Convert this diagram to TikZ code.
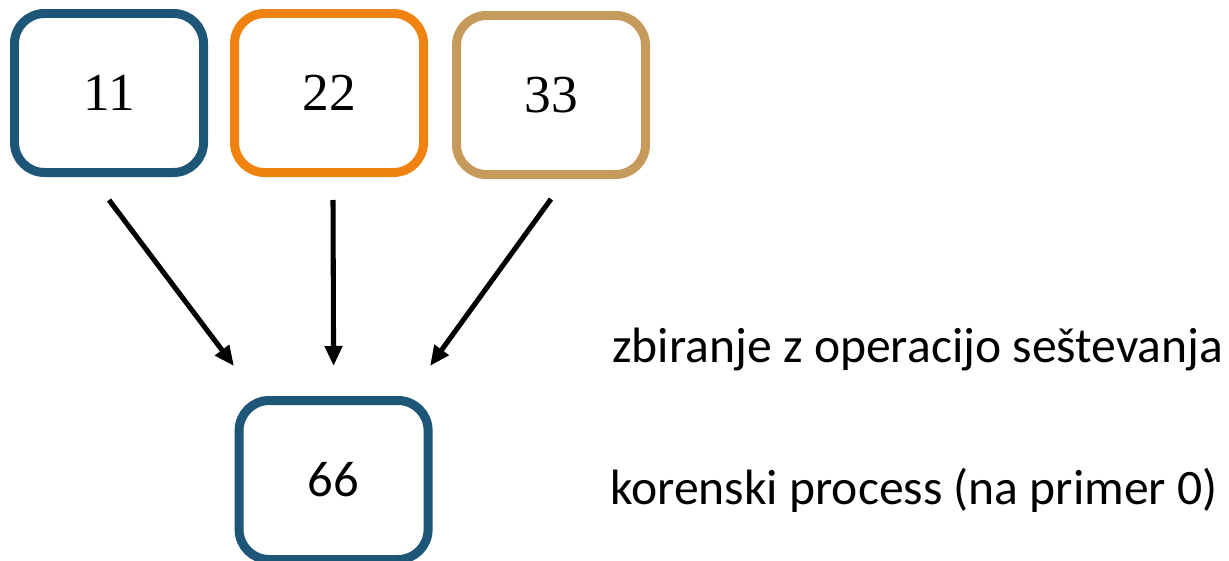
\documentclass[tikz,border=0pt]{standalone}
\usepackage{fontspec}
\setmainfont{Carlito}
\newfontfamily\numfont{Liberation Serif}
\usepackage{xcolor}
\definecolor{boxBlue}{HTML}{1D5676}
\definecolor{boxOrange}{HTML}{F0820F}
\definecolor{boxTan}{HTML}{C59A5B}
\usetikzlibrary{arrows.meta, positioning}

\begin{document}
\begin{tikzpicture}[
        numBox/.style={
            draw,
            line width=6.4pt,
            rounded corners=0.75cm,
            minimum width=4.725cm,
            minimum height=3.975cm,
            font=\numfont\fontsize{38}{44}\selectfont
        },
        noteText/.style={
            anchor=west,
            inner sep=0pt,
            font=\fontsize{35.3}{40}\selectfont
        },
        flowArrow/.style={
            -{Triangle[length=0.5cm, width=0.42cm]},
            line width=3.6pt
        }
    ]

    \useasboundingbox (0,0) rectangle (30.725,-14);

    % Top row
    \node[numBox, draw=boxBlue] (b1) at (2.725, -2.325) {11};
    \node[numBox, draw=boxOrange] (b2) at (8.225, -2.325) {22};
    \node[numBox, draw=boxTan] (b3) at (13.775, -2.375) {33};

    % Root
    \node[numBox, draw=boxBlue, font=\fontsize{36}{42}\selectfont] (root) at (8.34, -12.0) {66};

    % Labels
    \node[noteText] (sum) at (15.3, -8.75) {zbiranje z operacijo seštevanja};
    \node[noteText] (rootText) at (15.25, -12.25) {korenski process (na primer 0)};

    % Connections
    \draw[flowArrow] ([yshift=-0.575cm]b1.south) -- ([xshift=-2.49cm, yshift=0.75cm]root.north);
    \draw[flowArrow] ([xshift=0.1cm, yshift=-0.575cm]b2.south) -- ([yshift=0.75cm]root.north);
    \draw[flowArrow] ([yshift=-0.5cm]b3.south) -- ([xshift=2.41cm, yshift=0.75cm]root.north);

\end{tikzpicture}
\end{document}
